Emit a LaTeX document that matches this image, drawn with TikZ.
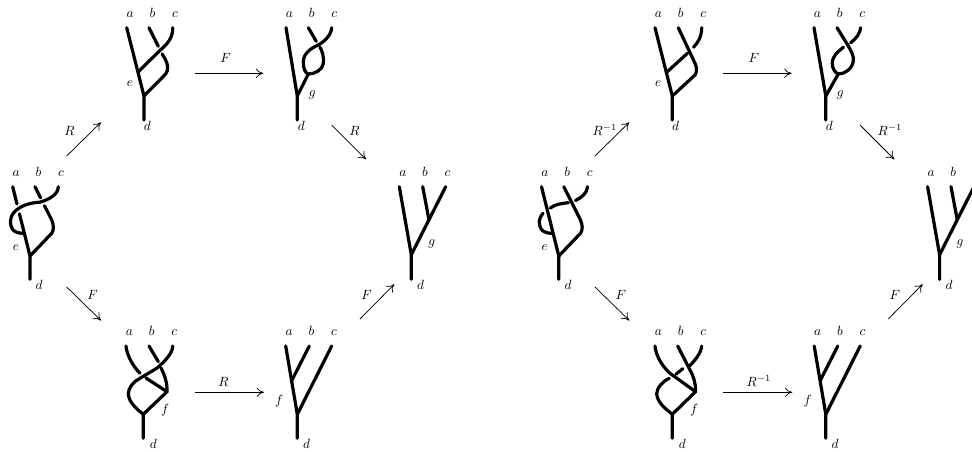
\documentclass[tikz,border=0pt]{standalone}
\usepackage{amsmath}
\usetikzlibrary{arrows.meta}

\tikzset{
  strand/.style={line width=2.4pt,line cap=round,line join=round},
  lab/.style={anchor=base,inner sep=0pt,font=\normalsize},
  move/.style={-{Computer Modern Rightarrow[length=5.5pt,width=7pt]},line width=0.55pt},
  movelab/.style={anchor=base west,inner sep=0pt}
}

% the three labels above a tree
\newcommand{\toplabels}{
  \node[lab] (a) at (3.5,-10.4) {$a$};
  \node[lab] (b) at (25.7,-10.4) {$b$};
  \node[lab] (c) at (48.3,-10.4) {$c$};
}

% the six arrows of a hexagon, #1 is the braiding move
\newcommand{\moves}[1]{
  \coordinate (s1) at (66.7,156);
  \coordinate (t1) at (101,122.3);
  \coordinate (s2) at (195,73.3);
  \coordinate (t2) at (263.3,73.3);
  \coordinate (s3) at (331.7,125);
  \coordinate (t3) at (366,159.3);
  \coordinate (s4) at (66.7,287);
  \coordinate (t4) at (101,320.5);
  \coordinate (s5) at (195,392.3);
  \coordinate (t5) at (264,392.3);
  \coordinate (s6) at (360,319);
  \coordinate (t6) at (394.3,284.3);
  \draw[move] (s1) -- (t1);
  \draw[move] (s2) -- (t2);
  \draw[move] (s3) -- (t3);
  \draw[move] (s4) -- (t4);
  \draw[move] (s5) -- (t5);
  \draw[move] (s6) -- (t6);
  \node[movelab] (m1) at (64,135) {$#1$};
  \node[movelab] (m2) at (220,62) {$F$};
  \node[movelab] (m3) at (349,135) {$#1$};
  \node[movelab] (m4) at (87,299.5) {$F$};
  \node[movelab] (m5) at (218,386.5) {$#1$};
  \node[movelab] (m6) at (361,299) {$F$};
}

\begin{document}
\begin{tikzpicture}[x=0.75pt,y=-0.75pt]
\clip (0,0) rectangle (972,451);
% left hexagon
\moves{R}
% tree e, strand c crosses over all
\begin{scope}[shift={(12.7,186.7)},name prefix=C-]
\toplabels
\draw[strand] (0,0) -- (4.3,17.2);
\draw[strand] (6.75,27) -- (17.3,69.3) -- (17.3,92.6);
\draw[strand] (22.3,0) -- (27.9,11.2);
\draw[strand] (31.8,19) -- (39,33.3) .. controls (41,38) and (41.5,43) .. (39,46.6) -- (17.3,69.3);
\draw[strand] (45.6,0) .. controls (45.5,8) and (36,13) .. (27,15.5) .. controls (19,16) and (8,18) .. (1,26) .. controls (-3.5,32) and (-3,38) .. (0,43) .. controls (3,46) and (7,46.6) .. (11,46.6);
\node[lab] (e) at (3.3,63.3) {$e$};
\node[lab] (d) at (26.5,102.6) {$d$};
\end{scope}
% tree e, c over b
\begin{scope}[shift={(126.7,27.7)},name prefix=A-]
\toplabels
\draw[strand] (0,0) -- (17.3,68.3) -- (17.3,92.3);
\draw[strand] (22.3,0) -- (31.6,18.6);
\draw[strand] (35.4,26.2) -- (38.3,31) .. controls (41.5,37) and (42,42) .. (39,46.3) -- (17.3,68.3);
\draw[strand] (46,0) .. controls (46.5,10) and (40,17) .. (34,22) -- (11.6,44);
\node[lab] (e) at (3.3,59) {$e$};
\node[lab] (d) at (20.6,103) {$d$};
\end{scope}
% tree g with a loop
\begin{scope}[shift={(286,27.7)},name prefix=B-]
\toplabels
\draw[strand] (0,0) -- (11.3,68.3) -- (11.3,92.3);
\draw[strand] (22.3,46.3) -- (11.3,68.3);
\draw[strand] (22.3,0) -- (30.3,13.7);
\draw[strand] (34,19.5) .. controls (36.5,24) and (38,29) .. (37.3,36) .. controls (36.5,42) and (29,46.3) .. (22.3,46.3);
\draw[strand] (45.7,0) .. controls (45,8) and (38,14) .. (32.3,17.3) .. controls (26,20) and (17.5,25) .. (17.3,34) .. controls (17.3,41) and (19,45) .. (22.3,46.3);
\node[lab] (g) at (26.3,68.5) {$g$};
\node[lab] (d) at (15.3,103) {$d$};
\end{scope}
% final tree g
\begin{scope}[shift={(399.3,186.7)},name prefix=D-]
\toplabels
\draw[strand] (0,0) -- (12,68) -- (12,92.6);
\draw[strand] (23.4,0) -- (29.7,33.3);
\draw[strand] (46.4,0) -- (12,68);
\node[lab] (g) at (32.4,58.3) {$g$};
\node[lab] (d) at (21.4,102.6) {$d$};
\end{scope}
% tree f, c over a and b
\begin{scope}[shift={(126,346)},name prefix=E-]
\toplabels
\draw[strand] (0,0) .. controls (1,10) and (7,20) .. (14,27.3);
\draw[strand] (20,32) -- (41,45.7);
\draw[strand] (23,0) -- (32.3,15.7);
\draw[strand] (35,22) .. controls (38,28) and (41.5,36) .. (41,45.7) -- (17.3,68.3) -- (17.3,92.3);
\draw[strand] (46.7,0) .. controls (46.5,8) and (38,16) .. (30.7,22.3) -- (14,32.3) .. controls (8,35) and (2,42) .. (2.3,48) .. controls (3,57) and (11,63) .. (17.3,68.3);
\node[lab] (f) at (39,67) {$f$};
\node[lab] (d) at (27.3,102) {$d$};
\end{scope}
% tree f
\begin{scope}[shift={(285.7,346)},name prefix=F-]
\toplabels
\draw[strand] (0,0) -- (11.6,68.3) -- (11.6,92.3);
\draw[strand] (23.6,0) -- (6.3,34);
\draw[strand] (46,0) -- (11.6,68.3);
\node[lab] (f) at (-6.7,58) {$f$};
\node[lab] (d) at (21,102) {$d$};
\end{scope}
% right hexagon
\begin{scope}[shift={(528.3,0)},name prefix=r-]
\moves{R^{-1}}
\end{scope}
% tree e, c goes under
\begin{scope}[shift={(541.5,186.7)},name prefix=rC-]
\toplabels
\draw[strand] (0,0) -- (17.3,69.3) -- (17.3,92.6);
\draw[strand] (22.3,0) -- (39,33.3) .. controls (41,38) and (41.5,43) .. (39,46.6) -- (17.3,69.3);
\draw[strand] (46,0) .. controls (46,6) and (40,11) .. (34,13.8);
\draw[strand] (27,16) .. controls (20,16.5) and (13,18) .. (8.8,21.3);
\draw[strand] (1.6,26.6) .. controls (-3.5,32) and (-3,38) .. (0,43) .. controls (3,46) and (7,46.6) .. (11,46.6);
\node[lab] (e) at (3.3,63.3) {$e$};
\node[lab] (d) at (26.5,102.6) {$d$};
\end{scope}
% tree e, c under b
\begin{scope}[shift={(655,27.7)},name prefix=rA-]
\toplabels
\draw[strand] (0,0) -- (17.3,68.3) -- (17.3,92.3);
\draw[strand] (23.3,0) -- (40,35.6) .. controls (42,40) and (42,44) .. (40,47.3) -- (17.3,68.3);
\draw[strand] (46.7,0) .. controls (46.7,9) and (43,15) .. (38.5,19.5);
\draw[strand] (32.5,25.5) -- (12.3,44);
\node[lab] (e) at (3.3,59) {$e$};
\node[lab] (d) at (20.6,103) {$d$};
\end{scope}
% tree g, loop with c under
\begin{scope}[shift={(814,27.7)},name prefix=rB-]
\toplabels
\draw[strand] (0,0) -- (11.8,68.3) -- (11.8,92.3);
\draw[strand] (24.3,46.3) -- (11.8,68.3);
\draw[strand] (23,0) -- (32.7,15.6) .. controls (37,23) and (40,28) .. (39.3,33) .. controls (38.5,41) and (31,46.3) .. (24.3,46.3);
\draw[strand] (46.7,0) .. controls (46,6) and (42,11) .. (36.5,15.2);
\draw[strand] (29.5,19.5) .. controls (24,24) and (18.3,28) .. (18.3,35.7) .. controls (18.3,41) and (21,45) .. (24.3,46.3);
\node[lab] (g) at (26.3,68.5) {$g$};
\node[lab] (d) at (15.3,103) {$d$};
\end{scope}
% final tree g, cut by the page edge
\begin{scope}[shift={(927.6,186.7)},name prefix=rD-]
\node[lab] (a) at (3.5,-10.4) {$a$};
\node[lab] (b) at (25.7,-10.4) {$b$};
\draw[strand] (0,0) -- (12,68) -- (12,92.6);
\draw[strand] (23.4,0) -- (29.7,33.3);
\draw[strand] (46.4,0) -- (12,68);
\node[lab] (g) at (32.4,58.3) {$g$};
\node[lab] (d) at (21.4,102.6) {$d$};
\end{scope}
% tree f, c under a and b
\begin{scope}[shift={(655,346)},name prefix=rE-]
\toplabels
\draw[strand] (0,0) .. controls (1,10) and (7,20) .. (15,27.3) -- (40.5,45.7);
\draw[strand] (22.7,0) -- (35,24) .. controls (38.5,30) and (41,38) .. (40.5,45.7) -- (17.3,68.3) -- (17.3,92.3);
\draw[strand] (46.7,0) .. controls (46.5,6) and (40,15) .. (34,20.2);
\draw[strand] (27.8,22.7) -- (21,28.2);
\draw[strand] (14.3,32.3) .. controls (8,35) and (1.5,42) .. (1.7,48) .. controls (2.5,57) and (11,63) .. (17.3,68.3);
\node[lab] (f) at (39,67) {$f$};
\node[lab] (d) at (27.3,102) {$d$};
\end{scope}
% tree f
\begin{scope}[shift={(814.2,346)},name prefix=rF-]
\toplabels
\draw[strand] (0,0) -- (11.6,68.3) -- (11.6,92.3);
\draw[strand] (23.6,0) -- (6.3,34);
\draw[strand] (46,0) -- (11.6,68.3);
\node[lab] (f) at (-6.7,58) {$f$};
\node[lab] (d) at (21,102) {$d$};
\end{scope}
\end{tikzpicture}
\end{document}
